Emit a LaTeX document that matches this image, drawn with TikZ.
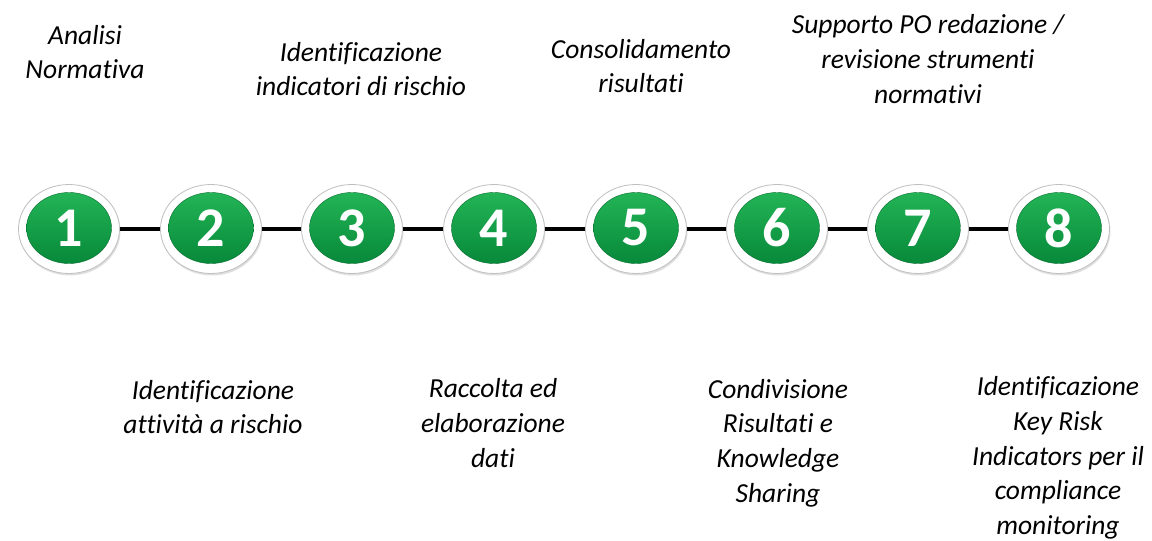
\documentclass[tikz,border=0pt]{standalone}
\usepackage{fontspec}
\setmainfont{Carlito}[Ligatures=NoCommon]
\usetikzlibrary{shapes.geometric,shadows}
\definecolor{gtop}{HTML}{23B456}
\definecolor{gbot}{HTML}{07893A}
\tikzset{
  outerring/.style={ellipse, minimum width=101pt, minimum height=89pt, inner sep=0pt,
    fill=white, draw=black!25, line width=0.8pt,
    drop shadow={opacity=0.25, shadow xshift=1pt, shadow yshift=-2pt}},
  innerdisc/.style={ellipse, minimum width=85pt, minimum height=71pt, inner sep=0pt,
    top color=gtop, bottom color=gbot, draw=gbot!80!black, line width=0.4pt,
    text=white, font=\fontsize{56}{56}\selectfont\bfseries},
  link/.style={line width=3.2pt, black},
  lbl/.style={align=center, inner sep=0pt, font=\fontsize{27.5}{34.7}\selectfont\itshape}
}
\begin{document}
\begin{tikzpicture}[x=1pt,y=-1pt]
\useasboundingbox[fill=white] (0,0) rectangle (1152,541);
\foreach \i/\x in {1/69,2/211,3/352,4/494,5/636,6/777,7/918,8/1059}{
  \node[outerring] (c\i) at (\x,229) {};
}
\foreach \a/\b in {1/2,2/3,3/4,4/5,5/6,6/7,7/8}{
  \draw[link] (c\a) -- (c\b);
}
\foreach \i/\x in {1/69,2/211,3/352,4/494,5/636,6/777,7/918,8/1059}{
  \node[innerdisc] (d\i) at (\x,228) {\i};
}
\node[lbl] (t1) at (85,52) {Analisi\\Normativa};
\node[lbl] (t3) at (361,69) {Identificazione\\indicatori di rischio};
\node[lbl] (t5) at (641,66) {Consolidamento\\risultati};
\node[lbl] (t7) at (928,59) {Supporto PO redazione /\\revisione strumenti\\normativi};
\node[lbl] (t2) at (213,407) {Identificazione\\attività a rischio};
\node[lbl] (t4) at (493,423) {Raccolta ed\\elaborazione\\dati};
\node[lbl] (t6) at (778,443) {Condivisione\\Risultati e\\Knowledge\\Sharing};
\node[lbl] (t8) at (1058,458) {Identificazione\\Key Risk\\Indicators per il\\compliance\\monitoring};
\end{tikzpicture}
\end{document}
